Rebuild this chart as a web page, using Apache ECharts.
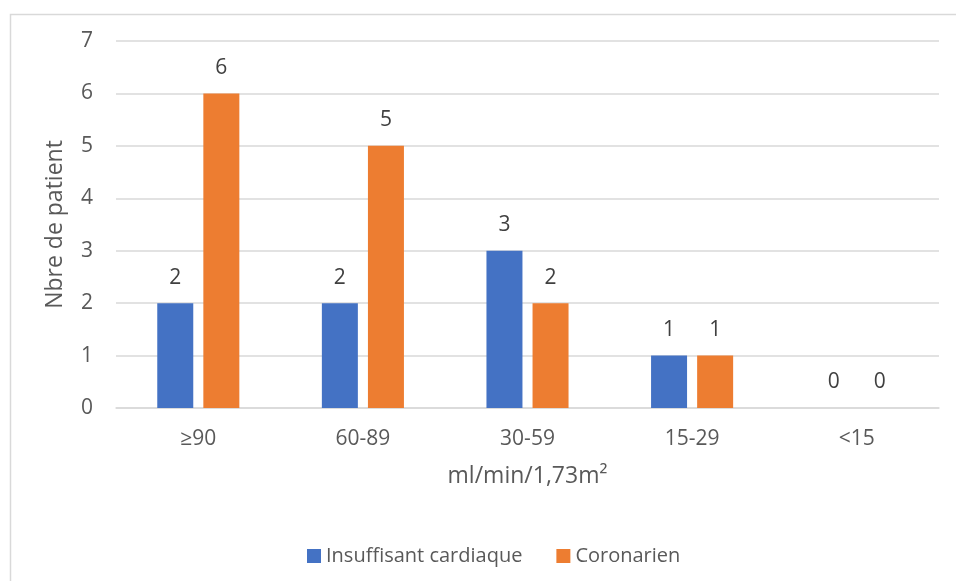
<!DOCTYPE html>
<html>
<head>
<meta charset="utf-8">
<script src="https://cdn.jsdelivr.net/npm/echarts@6/dist/echarts.min.js"></script>
<style>
html,body{margin:0;padding:0;background:#fff;}
#chart{width:956px;height:581px;}
</style>
</head>
<body>
<div id="chart"></div>
<script>
var categories = ['≥90', '60-89', '30-59', '15-29', '<15'];
var insuffisant = [2, 2, 3, 1, 0];
var coronarien = [6, 5, 2, 1, 0];
var seriesNames = ['Insuffisant cardiaque', 'Coronarien'];
var yTicks = [0, 1, 2, 3, 4, 5, 6, 7];

var FONT = "'Open Sans', sans-serif";
var chart = echarts.init(document.getElementById('chart'), null, {renderer: 'canvas'});
var labelStyle = {show: true, position: 'top', distance: 15, color: '#404040', fontSize: 21, fontFamily: FONT};
chart.setOption({
  animation: false,
  backgroundColor: '#fff',
  graphic: [{
    type: 'rect', left: 8, top: 12, z: -10,
    shape: {width: 1000, height: 650},
    style: {fill: 'none', stroke: '#d9d9d9', lineWidth: 1.5}
  }],
  grid: {left: 116, right: 17, top: 41, bottom: 173, containLabel: false},
  legend: {
    left: 302, top: 541,
    itemWidth: 14, itemHeight: 14, itemGap: 34,
    icon: 'rect',
    textStyle: {color: '#595959', fontSize: 20, fontFamily: FONT},
    data: seriesNames
  },
  xAxis: {
    type: 'category',
    data: categories,
    name: 'ml/min/1,73m²',
    nameLocation: 'middle',
    nameGap: 57,
    nameTextStyle: {color: '#595959', fontSize: 23, fontFamily: FONT},
    axisLine: {lineStyle: {color: '#d9d9d9', width: 1.5}},
    axisTick: {show: false},
    axisLabel: {color: '#595959', fontSize: 21, fontFamily: FONT, margin: 21}
  },
  yAxis: {
    type: 'value',
    min: yTicks[0], max: yTicks[yTicks.length - 1], interval: 1,
    name: 'Nbre de patient',
    nameLocation: 'middle',
    nameGap: 49,
    nameRotate: 90,
    nameTextStyle: {color: '#595959', fontSize: 23, fontFamily: FONT},
    axisLine: {show: false},
    axisTick: {show: false},
    splitLine: {lineStyle: {color: '#d9d9d9', width: 1.5}},
    axisLabel: {color: '#595959', fontSize: 21, fontFamily: FONT, margin: 23}
  },
  series: [
    {name: seriesNames[0], type: 'bar', data: insuffisant, barWidth: 36, barGap: '28%',
     itemStyle: {color: '#4472c4'}, label: labelStyle},
    {name: seriesNames[1], type: 'bar', data: coronarien, barWidth: 36,
     itemStyle: {color: '#ed7d31'}, label: labelStyle}
  ]
});
</script>
</body>
</html>
